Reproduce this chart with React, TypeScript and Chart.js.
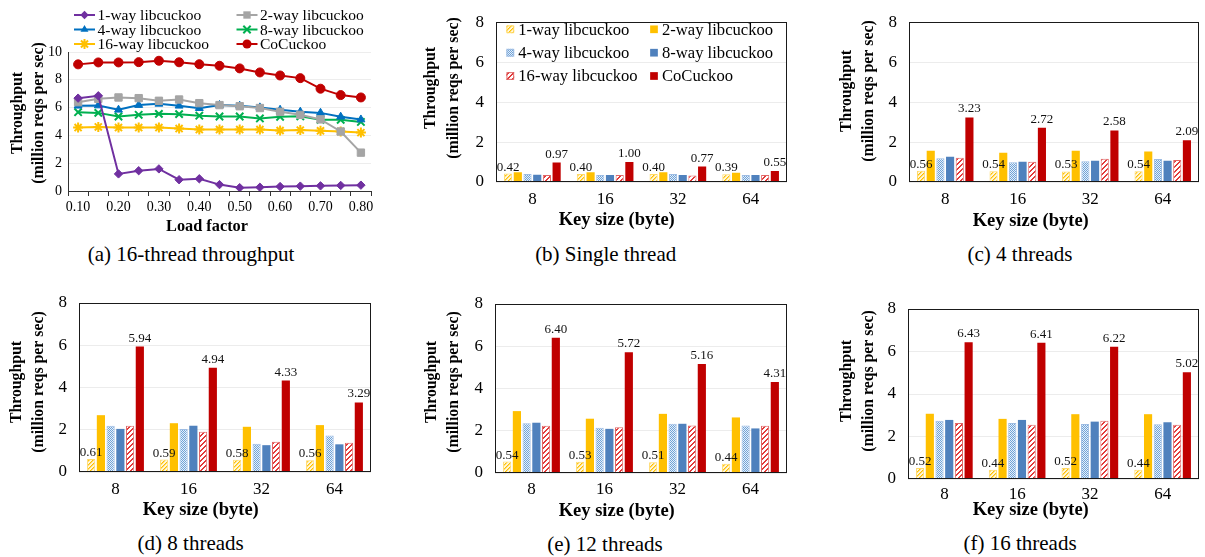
import React, { useEffect, useRef } from 'react';
import { Chart, registerables } from 'chart.js';

Chart.register(...registerables);

const SERIF = "'Liberation Serif', 'Times New Roman', serif";

// ---------------- data ----------------
const seriesNames = ['1-way libcuckoo', '2-way libcuckoo', '4-way libcuckoo', '8-way libcuckoo', '16-way libcuckoo', 'CoCuckoo'];

// (a) 16-thread throughput vs load factor
const loadFactors = ['0.10', '0.15', '0.20', '0.25', '0.30', '0.35', '0.40', '0.45', '0.50', '0.55', '0.60', '0.65', '0.70', '0.75', '0.80'];
const lf1way = [6.68, 6.85, 1.23, 1.46, 1.59, 0.81, 0.88, 0.46, 0.24, 0.27, 0.32, 0.35, 0.37, 0.40, 0.42];
const lf2way = [6.39, 6.63, 6.73, 6.68, 6.49, 6.58, 6.32, 6.18, 6.10, 5.97, 5.70, 5.48, 5.15, 4.28, 2.76];
const lf4way = [6.13, 6.15, 5.84, 6.18, 6.27, 6.13, 5.96, 6.18, 6.13, 6.01, 5.84, 5.70, 5.62, 5.34, 5.14];
const lf8way = [5.67, 5.62, 5.36, 5.48, 5.55, 5.53, 5.42, 5.36, 5.36, 5.22, 5.34, 5.37, 5.12, 5.12, 4.97];
const lf16way = [4.56, 4.61, 4.56, 4.56, 4.56, 4.49, 4.42, 4.42, 4.42, 4.42, 4.35, 4.38, 4.33, 4.28, 4.20];
const lfCoCuckoo = [9.11, 9.25, 9.25, 9.27, 9.37, 9.26, 9.12, 9.01, 8.82, 8.53, 8.31, 8.12, 7.36, 6.90, 6.73];
const lineYMax = 10;

// (b)-(f) throughput vs key size
const keySizes = ['8', '16', '32', '64'];
const barYMax = 8;

const single1way = [0.42, 0.40, 0.40, 0.39];
const single2way = [0.49, 0.49, 0.49, 0.46];
const single4way = [0.40, 0.35, 0.40, 0.35];
const single8way = [0.36, 0.35, 0.35, 0.35];
const single16way = [0.35, 0.35, 0.33, 0.35];
const singleCoCuckoo = [0.97, 1.00, 0.77, 0.55];

const t4_1way = [0.56, 0.54, 0.53, 0.54];
const t4_2way = [1.57, 1.46, 1.57, 1.53];
const t4_4way = [1.19, 0.99, 1.04, 1.15];
const t4_8way = [1.26, 1.02, 1.07, 1.07];
const t4_16way = [1.21, 1.01, 1.16, 1.10];
const t4_CoCuckoo = [3.23, 2.72, 2.58, 2.09];

const t8_1way = [0.61, 0.59, 0.58, 0.56];
const t8_2way = [2.69, 2.31, 2.14, 2.22];
const t8_4way = [2.19, 2.04, 1.34, 1.73];
const t8_8way = [2.04, 2.19, 1.27, 1.31];
const t8_16way = [2.19, 1.90, 1.43, 1.38];
const t8_CoCuckoo = [5.94, 4.94, 4.33, 3.29];

const t12_1way = [0.54, 0.53, 0.51, 0.44];
const t12_2way = [2.93, 2.57, 2.80, 2.63];
const t12_4way = [2.35, 2.14, 2.33, 2.25];
const t12_8way = [2.38, 2.09, 2.33, 2.11];
const t12_16way = [2.24, 2.17, 2.25, 2.24];
const t12_CoCuckoo = [6.40, 5.72, 5.16, 4.31];

const t16_1way = [0.52, 0.44, 0.52, 0.44];
const t16_2way = [3.07, 2.83, 3.05, 3.05];
const t16_4way = [2.74, 2.64, 2.59, 2.58];
const t16_8way = [2.78, 2.78, 2.70, 2.67];
const t16_16way = [2.64, 2.55, 2.74, 2.55];
const t16_CoCuckoo = [6.43, 6.41, 6.22, 5.02];

// ---------------- styles ----------------
const lineColors = ['#7030A0', '#A5A5A5', '#0070C0', '#00B050', '#FFC000', '#C00000'];
const lineMarkers = ['rectRot', 'rect', 'triangle', 'crossRot', 'star', 'circle'];
const lineMarkerRadius = [4.2, 5.2, 4.6, 5.2, 5, 4.5];

type Box = { X: number; Y: number; W: number; H: number; L: number; T: number; R: number; B: number };

function makePattern(kind: string): CanvasPattern | string {
  const c = document.createElement('canvas');
  const n = kind === 'hatch' ? 5 : 4;
  c.width = n;
  c.height = n;
  const x = c.getContext('2d');
  if (!x) return '#ccc';
  x.fillStyle = '#ffffff';
  x.fillRect(0, 0, n, n);
  for (let i = 0; i < n; i++) {
    for (let j = 0; j < n; j++) {
      let col = '';
      if (kind === 'yellow') {
        col = (i + j) % 4 === 0 ? '#FFC000' : (i + j) % 4 === 1 ? '#FFDB70' : '#FFF6DA';
      } else if (kind === 'blue') {
        col = (i + j) % 2 === 0 ? '#6FA3D8' : '#E6EFF9';
      } else if (kind === 'hatch') {
        col = (i + j) % 5 === 0 || (i + j) % 5 === 1 ? '#E23B3B' : '';
      }
      if (col) {
        x.fillStyle = col;
        x.fillRect(i, j, 1, 1);
      }
    }
  }
  const p = x.createPattern(c, 'repeat');
  return p || '#ccc';
}

function drawMarker(ctx: CanvasRenderingContext2D, style: string, x: number, y: number, r: number, color: string) {
  ctx.save();
  ctx.fillStyle = color;
  ctx.strokeStyle = color;
  ctx.lineWidth = 1;
  ctx.beginPath();
  if (style === 'circle') {
    ctx.arc(x, y, r, 0, Math.PI * 2);
    ctx.fill();
  } else if (style === 'rectRot') {
    ctx.moveTo(x, y - r);
    ctx.lineTo(x + r, y);
    ctx.lineTo(x, y + r);
    ctx.lineTo(x - r, y);
    ctx.closePath();
    ctx.fill();
  } else if (style === 'rect') {
    const s = r * Math.SQRT1_2;
    ctx.rect(x - s, y - s, 2 * s, 2 * s);
    ctx.fill();
  } else if (style === 'triangle') {
    ctx.moveTo(x, y - r);
    ctx.lineTo(x + r * 0.866, y + r * 0.5);
    ctx.lineTo(x - r * 0.866, y + r * 0.5);
    ctx.closePath();
    ctx.fill();
  } else if (style === 'crossRot' || style === 'star') {
    ctx.lineWidth = 2;
    const o = r * Math.SQRT1_2;
    ctx.moveTo(x - o, y - o);
    ctx.lineTo(x + o, y + o);
    ctx.moveTo(x + o, y - o);
    ctx.lineTo(x - o, y + o);
    if (style === 'star') {
      ctx.moveTo(x, y - r);
      ctx.lineTo(x, y + r);
      ctx.moveTo(x - r, y);
      ctx.lineTo(x + r, y);
    }
    ctx.stroke();
  }
  ctx.restore();
}

// ---------------- plugins ----------------
const textsPlugin = {
  id: 'texts',
  afterDraw(chart: any, _args: any, opts: any) {
    if (!opts || !opts.items) return;
    const ctx: CanvasRenderingContext2D = chart.ctx;
    for (const it of opts.items) {
      ctx.save();
      ctx.translate(it.x - opts.ox, it.y - opts.oy);
      if (it.rot) ctx.rotate(it.rot);
      ctx.font = `${it.bold ? 'bold ' : ''}${it.size}px ${SERIF}`;
      ctx.fillStyle = '#000';
      ctx.textAlign = 'center';
      ctx.textBaseline = 'middle';
      ctx.fillText(it.text, 0, 0);
      ctx.restore();
    }
  },
};

const framePlugin = {
  id: 'frame',
  afterDatasetsDraw(chart: any, _args: any, opts: any) {
    if (!opts || !opts.show) return;
    const { left, top, right, bottom } = chart.chartArea;
    const ctx: CanvasRenderingContext2D = chart.ctx;
    ctx.save();
    ctx.strokeStyle = '#1a1a1a';
    ctx.lineWidth = 1;
    const l = Math.round(left) + 0.5;
    const t = Math.round(top) + 0.5;
    const r = Math.round(right) - 0.5;
    const b = Math.round(bottom) - 0.5;
    ctx.strokeRect(l, t, r - l, b - t);
    ctx.restore();
  },
};

const valueLabelsPlugin = {
  id: 'valueLabels',
  afterDatasetsDraw(chart: any, _args: any, opts: any) {
    if (!opts || !opts.sets) return;
    const ctx: CanvasRenderingContext2D = chart.ctx;
    ctx.save();
    ctx.font = `${opts.size}px ${SERIF}`;
    ctx.fillStyle = '#111';
    ctx.textAlign = 'center';
    ctx.textBaseline = 'alphabetic';
    for (const s of opts.sets) {
      const meta = chart.getDatasetMeta(s.index);
      const data = chart.data.datasets[s.index].data;
      meta.data.forEach((el: any, i: number) => {
        ctx.fillText(Number(data[i]).toFixed(2), el.x, el.y - s.offset);
      });
    }
    ctx.restore();
  },
};

const lineLegendPlugin = {
  id: 'lineLegend',
  afterDraw(chart: any, _args: any, opts: any) {
    if (!opts || !opts.items) return;
    const ctx: CanvasRenderingContext2D = chart.ctx;
    const ds = chart.data.datasets;
    opts.items.forEach((it: any, i: number) => {
      const d = ds[i];
      const x0 = it.x - opts.ox;
      const y0 = it.y - opts.oy;
      ctx.save();
      ctx.strokeStyle = d.borderColor;
      ctx.lineWidth = 2;
      ctx.beginPath();
      ctx.moveTo(x0, y0);
      ctx.lineTo(x0 + opts.len, y0);
      ctx.stroke();
      ctx.restore();
      drawMarker(ctx, d.pointStyle, x0 + opts.len / 2, y0, d.pointRadius, d.borderColor);
      ctx.save();
      ctx.font = `${opts.size}px ${SERIF}`;
      ctx.fillStyle = '#000';
      ctx.textAlign = 'left';
      ctx.textBaseline = 'middle';
      ctx.fillText(d.label, x0 + opts.len + opts.gap, y0 + 1);
      ctx.restore();
    });
  },
};

const barLegendPlugin = {
  id: 'barLegend',
  afterDraw(chart: any, _args: any, opts: any) {
    if (!opts || !opts.items) return;
    const ctx: CanvasRenderingContext2D = chart.ctx;
    const ds = chart.data.datasets;
    opts.items.forEach((it: any, i: number) => {
      const d = ds[i];
      const cx = it.x - opts.ox;
      const cy = it.y - opts.oy;
      const s = opts.box;
      ctx.save();
      ctx.fillStyle = d.backgroundColor;
      ctx.fillRect(cx - s / 2, cy - s / 2, s, s);
      if (d.borderWidth > 0) {
        ctx.strokeStyle = d.borderColor;
        ctx.lineWidth = 1;
        ctx.strokeRect(cx - s / 2 + 0.5, cy - s / 2 + 0.5, s - 1, s - 1);
      }
      ctx.font = `${opts.size}px ${SERIF}`;
      ctx.fillStyle = '#000';
      ctx.textAlign = 'left';
      ctx.textBaseline = 'middle';
      ctx.fillText(d.label, cx + opts.gap, cy + 1);
      ctx.restore();
    });
  },
};

// ---------------- panel layout ----------------
type BarSpec = {
  id: string;
  box: Box;
  series: number[][];
  yTitleX: [number, number];
  yTitleY: number;
  xTitle: [number, number];
  tickY: number;
  caption: [string, number, number];
  legend?: boolean;
};

const lineBox: Box = { X: 0, Y: 0, W: 400, H: 240, L: 68, T: 52, R: 371, B: 191 };

const barSpecs: BarSpec[] = [
  {
    id: 'b', box: { X: 400, Y: 0, W: 400, H: 240, L: 496, T: 13, R: 787, B: 182 },
    series: [single1way, single2way, single4way, single8way, single16way, singleCoCuckoo],
    yTitleX: [431, 454], yTitleY: 88, xTitle: [616.7, 220], tickY: 199.3,
    caption: ['(b) Single thread', 605.7, 253.5], legend: true,
  },
  {
    id: 'c', box: { X: 800, Y: 0, W: 405, H: 240, L: 909, T: 13, R: 1199, B: 182 },
    series: [t4_1way, t4_2way, t4_4way, t4_8way, t4_16way, t4_CoCuckoo],
    yTitleX: [846.7, 869], yTitleY: 91, xTitle: [1030.7, 221.5], tickY: 199.3,
    caption: ['(c) 4 threads', 1020, 254],
  },
  {
    id: 'd', box: { X: 0, Y: 280, W: 400, H: 240, L: 79, T: 303, R: 371, B: 472 },
    series: [t8_1way, t8_2way, t8_4way, t8_8way, t8_16way, t8_CoCuckoo],
    yTitleX: [16.7, 39], yTitleY: 382, xTitle: [200.7, 510], tickY: 489.3,
    caption: ['(d) 8 threads', 190.7, 543.3],
  },
  {
    id: 'e', box: { X: 400, Y: 280, W: 400, H: 240, L: 495, T: 304, R: 787, B: 473 },
    series: [t12_1way, t12_2way, t12_4way, t12_8way, t12_16way, t12_CoCuckoo],
    yTitleX: [431.7, 454], yTitleY: 382, xTitle: [616.7, 511.5], tickY: 490,
    caption: ['(e) 12 threads', 605, 544],
  },
  {
    id: 'f', box: { X: 800, Y: 280, W: 405, H: 240, L: 908, T: 309, R: 1199, B: 479 },
    series: [t16_1way, t16_2way, t16_4way, t16_8way, t16_16way, t16_CoCuckoo],
    yTitleX: [846.7, 869], yTitleY: 381, xTitle: [1030.7, 510], tickY: 495,
    caption: ['(f) 16 threads', 1020, 543.3],
  },
];

function layoutFor(b: Box) {
  return { padding: { left: 0, top: b.T - b.Y, right: b.X + b.W - b.R, bottom: 0 } };
}

function yTitleItems(xs: [number, number], y: number) {
  return [
    { text: 'Throughput', x: xs[0], y, size: 15.8, bold: true, rot: -Math.PI / 2 },
    { text: '(million reqs per sec)', x: xs[1], y, size: 15.8, bold: true, rot: -Math.PI / 2 },
  ];
}

function lineConfig(): any {
  const b = lineBox;
  const series = [lf1way, lf2way, lf4way, lf8way, lf16way, lfCoCuckoo];
  const tickFont = 14;
  return {
    type: 'line',
    data: {
      labels: loadFactors,
      datasets: series.map((d, i) => ({
        label: seriesNames[i],
        data: d,
        borderColor: lineColors[i],
        backgroundColor: lineColors[i],
        pointBackgroundColor: lineColors[i],
        pointBorderColor: lineColors[i],
        pointStyle: lineMarkers[i],
        pointRadius: lineMarkerRadius[i],
        pointBorderWidth: lineMarkers[i] === 'crossRot' || lineMarkers[i] === 'star' ? 2 : 1,
        borderWidth: 2,
        tension: 0,
        fill: false,
      })),
    },
    options: {
      responsive: false,
      animation: false,
      devicePixelRatio: 1,
      layout: layoutFor(b),
      events: [],
      scales: {
        x: {
          type: 'category',
          offset: true,
          afterFit: (s: any) => { s.height = b.Y + b.H - b.B; },
          grid: { display: true, drawOnChartArea: false, drawTicks: true, tickLength: 5, color: '#333', offset: true },
          border: { display: true, color: '#333', width: 1 },
          ticks: {
            autoSkip: false, maxRotation: 0, minRotation: 0,
            padding: 2.6,
            color: '#000',
            font: { family: SERIF, size: tickFont },
            callback: (_v: any, idx: number) => (idx % 2 === 0 ? loadFactors[idx] : ''),
          },
        },
        y: {
          min: 0, max: lineYMax,
          afterFit: (s: any) => { s.width = b.L - b.X; },
          grid: { color: '#EDEDED', drawTicks: false },
          border: { display: true, color: '#333', width: 1 },
          ticks: { stepSize: 2, padding: 6, color: '#000', font: { family: SERIF, size: tickFont } },
        },
      },
      plugins: {
        legend: { display: false },
        tooltip: { enabled: false },
        texts: {
          ox: b.X, oy: b.Y,
          items: [
            ...yTitleItems([17.5, 38.5], 113),
            { text: 'Load factor', x: 207, y: 227, size: 16.3, bold: true },
          ],
        },
        lineLegend: {
          ox: b.X, oy: b.Y, len: 21, gap: 2.5, size: 15.5,
          items: [
            { x: 74, y: 15 }, { x: 236.5, y: 15 },
            { x: 74, y: 29.5 }, { x: 236.5, y: 29.5 },
            { x: 74, y: 44 }, { x: 236.5, y: 44 },
          ],
        },
      },
    },
    plugins: [textsPlugin, lineLegendPlugin],
  };
}

function barConfig(spec: BarSpec): any {
  const b = spec.box;
  const fills: any[] = [makePattern('yellow'), '#FFC000', makePattern('blue'), '#4F81BD', makePattern('hatch'), '#C00000'];
  const borders = ['#FFD966', '#FFC000', '#9DBCE3', '#4F81BD', '#E06666', '#C00000'];
  const bw = [1, 0, 1, 0, 1, 0];
  const tickFont = 17;
  const lh = tickFont * 1.2;
  return {
    type: 'bar',
    data: {
      labels: keySizes,
      datasets: spec.series.map((d, i) => ({
        label: seriesNames[i],
        data: d,
        backgroundColor: fills[i],
        borderColor: borders[i],
        borderWidth: bw[i],
        borderSkipped: 'bottom',
        categoryPercentage: 0.8,
        barPercentage: 0.84,
      })),
    },
    options: {
      responsive: false,
      animation: false,
      devicePixelRatio: 1,
      layout: layoutFor(b),
      events: [],
      scales: {
        x: {
          type: 'category',
          afterFit: (s: any) => { s.height = b.Y + b.H - b.B; },
          grid: { display: false, drawTicks: false },
          border: { display: false },
          ticks: {
            padding: spec.tickY - b.B - lh / 2,
            color: '#000',
            font: { family: SERIF, size: tickFont },
          },
        },
        y: {
          min: 0, max: barYMax,
          afterFit: (s: any) => { s.width = b.L - b.X; },
          grid: { color: '#ECECEC', drawTicks: false },
          border: { display: false },
          ticks: { stepSize: 2, padding: 12, color: '#000', font: { family: SERIF, size: tickFont } },
        },
      },
      plugins: {
        legend: { display: false },
        tooltip: { enabled: false },
        frame: { show: true },
        valueLabels: { size: 13, sets: [{ index: 0, offset: 3 }, { index: 5, offset: 5 }] },
        texts: {
          ox: b.X, oy: b.Y,
          items: [
            ...yTitleItems(spec.yTitleX, spec.yTitleY),
            { text: 'Key size (byte)', x: spec.xTitle[0], y: spec.xTitle[1], size: 18.5, bold: true },
          ],
        },
        barLegend: spec.legend
          ? {
              ox: b.X, oy: b.Y, box: 7.7, gap: 8, size: 16.6,
              items: [
                { x: 510.3, y: 29.3 }, { x: 654, y: 29.3 },
                { x: 510.3, y: 52.7 }, { x: 654, y: 52.7 },
                { x: 510.3, y: 76 }, { x: 654, y: 76 },
              ],
            }
          : {},
      },
    },
    plugins: [framePlugin, valueLabelsPlugin, textsPlugin, barLegendPlugin],
  };
}

function ChartCanvas({ box, build }: { box: Box; build: () => any }) {
  const ref = useRef<HTMLCanvasElement | null>(null);
  useEffect(() => {
    if (!ref.current) return;
    const chart = new Chart(ref.current, build());
    return () => chart.destroy();
  }, []);
  return (
    <canvas
      ref={ref}
      width={box.W}
      height={box.H}
      style={{ position: 'absolute', left: box.X, top: box.Y, width: box.W, height: box.H }}
    />
  );
}

function Caption({ text, x, y }: { text: string; x: number; y: number }) {
  return (
    <div
      style={{
        position: 'absolute', left: x, top: y, transform: 'translate(-50%, -50%)',
        fontFamily: SERIF, fontSize: 21, lineHeight: '21px', whiteSpace: 'nowrap', color: '#000',
      }}
    >
      {text}
    </div>
  );
}

export default function App() {
  return (
    <div style={{ position: 'fixed', left: 0, top: 0, width: 1205, height: 557, background: '#fff', overflow: 'hidden' }}>
      <ChartCanvas box={lineBox} build={lineConfig} />
      <Caption text="(a) 16-thread throughput" x={191} y={254} />
      {barSpecs.map((s) => (
        <React.Fragment key={s.id}>
          <ChartCanvas box={s.box} build={() => barConfig(s)} />
          <Caption text={s.caption[0]} x={s.caption[1]} y={s.caption[2]} />
        </React.Fragment>
      ))}
    </div>
  );
}
